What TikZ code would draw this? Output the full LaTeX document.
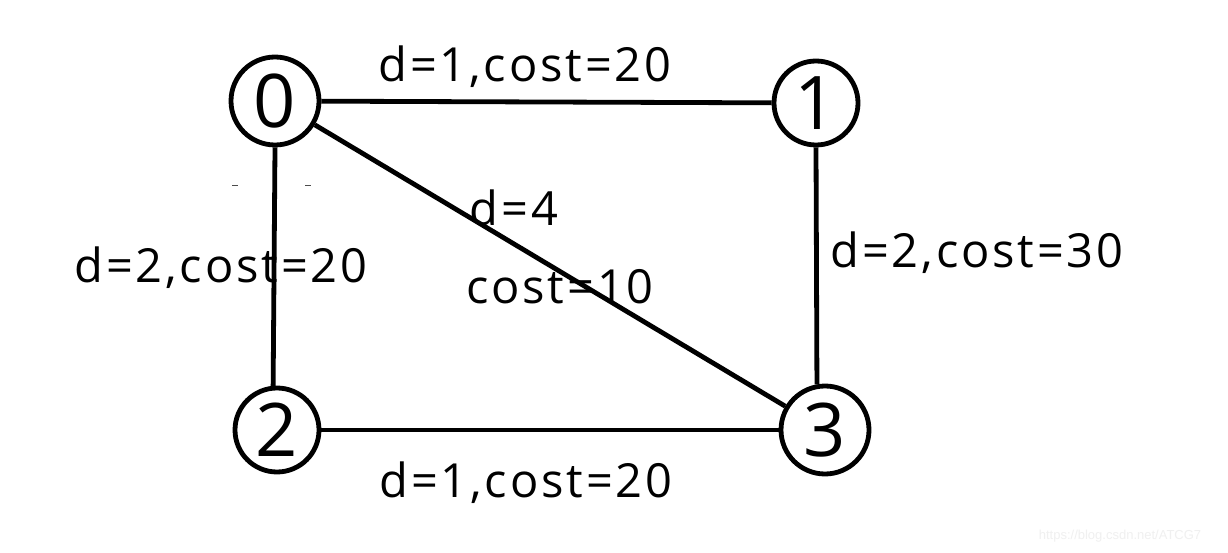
\documentclass[tikz,border=0pt]{standalone}
\usepackage{fontspec}
\setmainfont{Open Sans}
\newfontfamily\lblfont[LetterSpace=6]{Open Sans}
\newfontfamily\wmfont{Liberation Sans}
\begin{document}
\begin{tikzpicture}[x=1pt,y=-1pt,
  vtx/.style={circle,draw=black,line width=4.8pt,fill=white,inner sep=0pt,font=\fontsize{74}{74}\selectfont},
  edge/.style={line width=4.8pt,black},
  lbl/.style={font=\lblfont\fontsize{47}{47}\selectfont,inner sep=0pt,anchor=center}]
\useasboundingbox (0,0) rectangle (1228,553);
\fill[white] (0,0) rectangle (1228,553);
\node[vtx,minimum size=88pt] (n0) at (275,101) {0};
\node[vtx,minimum size=84pt] (n1) at (816,103) {1};
\node[vtx,minimum size=84pt] (n2) at (277,430) {2};
\node[vtx,minimum size=88pt] (n3) at (825,430) {3};
\draw[edge] (n0) -- (n1);
\draw[edge] (n0) -- (n3);
\draw[edge] (n0.south) -- (n2.95);
\draw[edge] (n1.south) -- (n3.100);
\draw[edge] (n2) -- (n3);
\node[lbl] (l01) at (525,67) {d=1,cost=20};
\node[lbl] (l03a) at (514,208) {d=4};
\node[lbl] (l03b) at (560,287) {cost=10};
\node[lbl] (l02) at (221,268) {d=2,cost=20};
\node[lbl] (l13) at (977,253) {d=2,cost=30};
\node[lbl] (l23) at (526,483) {d=1,cost=20};
\node[font=\wmfont\fontsize{13}{13}\selectfont,text=black!6,inner sep=0pt] (wm) at (1120,536) {https://blog.csdn.net/ATCG7};
\coordinate (t1) at (232,186); \coordinate (t2) at (238,186);
\coordinate (t3) at (305,186); \coordinate (t4) at (311,186);
\draw[line width=1pt,black!70] (t1) -- (t2);
\draw[line width=1pt,black!70] (t3) -- (t4);
\end{tikzpicture}
\end{document}
